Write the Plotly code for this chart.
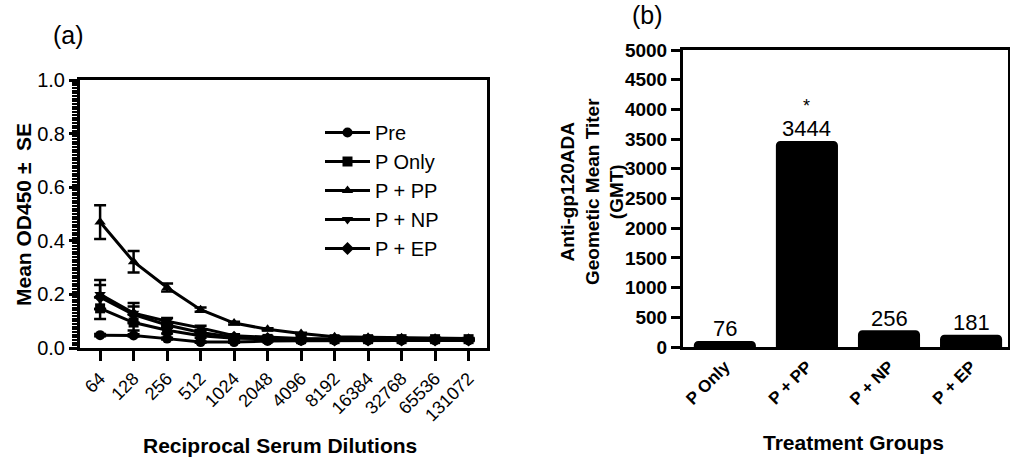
import plotly.graph_objects as go

# ---------------- data ----------------
dilutions = ["64", "128", "256", "512", "1024", "2048", "4096", "8192",
             "16384", "32768", "65536", "131072"]
pre = [0.048, 0.047, 0.035, 0.022, 0.022, 0.026, 0.027, 0.028, 0.028, 0.028, 0.028, 0.028]
p_only = [0.148, 0.095, 0.066, 0.046, 0.036, 0.034, 0.033, 0.033, 0.033, 0.033, 0.033, 0.033]
p_pp = [0.47, 0.322, 0.226, 0.143, 0.093, 0.07, 0.054, 0.042, 0.04, 0.038, 0.036, 0.035]
p_np = [0.2, 0.13, 0.1, 0.075, 0.046, 0.04, 0.035, 0.034, 0.033, 0.032, 0.031, 0.031]
p_ep = [0.19, 0.125, 0.086, 0.058, 0.04, 0.035, 0.031, 0.03, 0.03, 0.03, 0.03, 0.03]
pre_err = [0.004, 0.004, 0.003, 0.002, 0.002, 0.002, 0.002, 0.002, 0.002, 0.002, 0.002, 0.002]
p_only_err = [0.04, 0.03, 0.012, 0.008, 0.005, 0.003, 0.002, 0.002, 0.002, 0.002, 0.002, 0.002]
p_pp_err = [0.063, 0.04, 0.015, 0.008, 0.005, 0.004, 0.003, 0.002, 0.002, 0.002, 0.002, 0.002]
p_np_err = [0.054, 0.038, 0.012, 0.008, 0.005, 0.003, 0.002, 0.002, 0.002, 0.002, 0.002, 0.002]
p_ep_err = [0.045, 0.03, 0.01, 0.007, 0.004, 0.003, 0.002, 0.002, 0.002, 0.002, 0.002, 0.002]

series_names = ["Pre", "P Only", "P + PP", "P + NP", "P + EP"]
series_vals = [pre, p_only, p_pp, p_np, p_ep]
series_errs = [pre_err, p_only_err, p_pp_err, p_np_err, p_ep_err]
series_symbols = ["circle", "square", "triangle-up", "triangle-down", "diamond"]

groups = ["P Only", "P + PP", "P + NP", "P + EP"]
gmt = [76, 3444, 256, 181]
gmt_labels = ["76", "3444", "256", "181"]

FONT = "Liberation Sans, Arial, sans-serif"
W, H = 1010, 460

fig = go.Figure()

for name, vals, errs, sym in zip(series_names, series_vals, series_errs, series_symbols):
    fig.add_trace(go.Scatter(
        x=dilutions, y=vals, name=name, mode="lines+markers",
        line=dict(color="black", width=3),
        marker=dict(symbol=sym, size=10, color="black"),
        error_y=dict(type="data", array=errs, visible=True, color="black",
                     thickness=2.5, width=6),
        xaxis="x", yaxis="y",
    ))

fig.add_trace(go.Bar(
    x=groups, y=gmt, showlegend=False,
    marker=dict(color="black", line=dict(color="black", width=3), cornerradius=3),
    width=0.72, xaxis="x2", yaxis="y2",
))

annotations = []
for g, v, lab in zip(groups, gmt, gmt_labels):
    annotations.append(dict(x=g, y=v, xref="x2", yref="y2", text=lab,
                            showarrow=False, yanchor="bottom", yshift=-1,
                            font=dict(family=FONT, size=22, color="black")))
annotations.append(dict(x="P + PP", y=gmt[1], xref="x2", yref="y2", text="*",
                        showarrow=False, yanchor="bottom", yshift=24,
                        font=dict(family=FONT, size=18, color="black")))

paper_ann = [
    dict(x=68, y=35, text="(a)", size=25, angle=0),
    dict(x=647, y=15, text="(b)", size=25, angle=0),
    dict(x=23, y=215, text="<b>Mean OD450 \u00b1  SE</b>", size=21, angle=-90),
    dict(x=280, y=445, text="<b>Reciprocal Serum Dilutions</b>", size=21, angle=0),
    dict(x=592, y=192, text="<b>Anti-gp120ADA<br>Geometic Mean Titer<br>(GMT)</b>",
         size=19, angle=-90),
    dict(x=853, y=442, text="<b>Treatment Groups</b>", size=21, angle=0),
]
for a in paper_ann:
    annotations.append(dict(x=a["x"] / W, y=1 - a["y"] / H, xref="paper", yref="paper",
                            text=a["text"], textangle=a["angle"], showarrow=False,
                            xanchor="center", yanchor="middle",
                            font=dict(family=FONT, size=a["size"], color="black")))

axis_common = dict(showline=True, linecolor="black", linewidth=3, mirror=True,
                   showgrid=False, zeroline=False, tickcolor="black", tickwidth=3,
                   automargin=False)

fig.update_layout(
    template="none",
    width=W, height=H,
    margin=dict(l=0, r=0, t=0, b=0, pad=0, autoexpand=False),
    paper_bgcolor="white", plot_bgcolor="white",
    font=dict(family=FONT, color="black"),
    annotations=annotations,
    showlegend=True,
    xaxis=dict(domain=[80 / W, 487 / W], range=[-0.6, 11.55], type="category",
               tickangle=-45, ticks="outside", ticklen=10, tickfont=dict(size=18),
               anchor="y", **axis_common),
    yaxis=dict(domain=[1 - 348 / H, 1 - 80 / H], range=[0, 1.0], dtick=0.2,
               tickformat=".1f", ticks="outside", ticklen=8, tickfont=dict(size=20),
               minor=dict(dtick=0.01, ticklen=5, tickwidth=2, tickcolor="black",
                          ticks="outside"),
               anchor="x", **axis_common),
    xaxis2=dict(domain=[683 / W, 1008 / W], range=[-0.51, 3.45], type="category",
                tickangle=-45, ticks="", tickfont=dict(size=17),
                tickprefix="<b>", ticksuffix="</b>",
                anchor="y2", **axis_common),
    yaxis2=dict(domain=[1 - 347 / H, 1 - 50 / H], range=[0, 5000], dtick=500,
                ticks="outside", ticklen=9, tickfont=dict(size=19),
                tickprefix="<b>", ticksuffix="</b>",
                anchor="x2", **axis_common),
    legend=dict(x=320 / W, y=1 - 113 / H, xanchor="left", yanchor="top",
                font=dict(size=20, family=FONT), bgcolor="rgba(0,0,0,0)",
                borderwidth=0, tracegroupgap=0, itemwidth=45),
)

fig.write_html("out.html",
               config={"displayModeBar": False},
               post_script="document.body.style.margin='0';"
                           "document.body.style.overflow='hidden';")
